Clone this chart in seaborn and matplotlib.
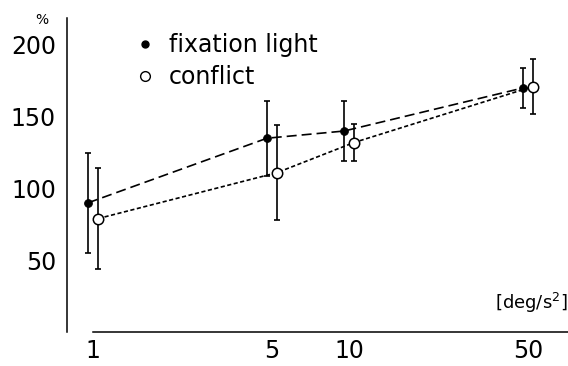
import numpy as np
import pandas as pd
import matplotlib
matplotlib.use("Agg")
import matplotlib.pyplot as plt
from matplotlib.lines import Line2D
import seaborn as sns

# stimulus acceleration [deg/s^2]
accel = [1, 5, 10, 50]

# gain in %
fixation_light = [90, 135, 140, 170]
fixation_err = [35, 26, 21, 14]
conflict = [79, 111, 132, 171]
conflict_err = [35, 33, 13, 19]

sns.set_style("white")
plt.rcParams["font.family"] = ["DejaVu Sans"]
plt.rcParams["text.color"] = "black"

fig = plt.figure(figsize=(5.68, 3.66), dpi=100)
ax = fig.add_axes([67 / 568, 34 / 366, 501 / 568, 314 / 366])

# small horizontal dodge so the error bars do not overlap
dodge = 1.046
df_fix = pd.DataFrame({"accel": np.array(accel) / dodge, "gain": fixation_light, "err": fixation_err})
df_con = pd.DataFrame({"accel": np.array(accel) * dodge, "gain": conflict, "err": conflict_err})

for d in (df_fix, df_con):
    ax.errorbar(d["accel"], d["gain"], yerr=d["err"], fmt="none", ecolor="black",
                elinewidth=1.2, capsize=2.5, capthick=1.2, zorder=2)

sns.lineplot(data=df_fix, x="accel", y="gain", ax=ax, color="black", linewidth=1.2,
             linestyle=(0, (6, 3)), marker="o", markersize=5.5, markerfacecolor="black",
             markeredgecolor="black", zorder=3)
sns.lineplot(data=df_con, x="accel", y="gain", ax=ax, color="black", linewidth=1.2,
             linestyle=(0, (2.5, 1.5)), marker="o", markersize=7.5, markerfacecolor="white",
             markeredgecolor="black", markeredgewidth=1.1, zorder=3)

ax.set_xscale("log")
ax.set_xlim(0.791, 71.7)
ax.set_ylim(0, 218.75)
ax.set_xticks(accel)
ax.set_xticklabels([str(a) for a in accel])
ax.minorticks_off()
ax.set_yticks([50, 100, 150, 200])
ax.set_xlabel("")
ax.set_ylabel("")

for s in ("top", "right"):
    ax.spines[s].set_visible(False)
for s in ("left", "bottom"):
    ax.spines[s].set_linewidth(1.1)
    ax.spines[s].set_color("black")
ax.spines["bottom"].set_bounds(1, 71.7)

ax.tick_params(axis="both", which="major", labelsize=17, colors="black",
               direction="inout", length=4, width=1.1)
ax.tick_params(axis="y", pad=6)
ax.tick_params(axis="x", pad=3)

ax.text(-0.05, 0.994, "%", transform=ax.transAxes, ha="center", va="center", fontsize=10)
ax.text(1.0, 0.092, "[deg/s$^2$]", transform=ax.transAxes, ha="right", va="center", fontsize=13)

handles = [
    Line2D([], [], linestyle="none", marker="o", markersize=5, color="black"),
    Line2D([], [], linestyle="none", marker="o", markersize=7, markerfacecolor="white",
           markeredgecolor="black", markeredgewidth=1.0),
]
leg = ax.legend(handles, ["fixation light", "conflict"], frameon=False, fontsize=17,
                loc="upper left", bbox_to_anchor=(0.118, 0.981), handlelength=0.8,
                handletextpad=0.6, labelspacing=0.33, borderaxespad=0)
for t in leg.get_texts():
    t.set_color("black")

fig.savefig("out.png", dpi=100)
